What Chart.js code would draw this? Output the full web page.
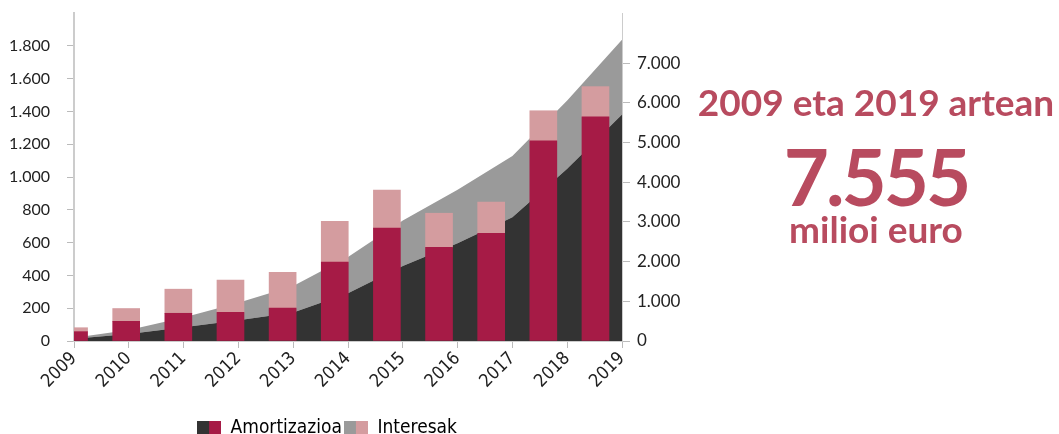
<!DOCTYPE html>
<html>
<head>
<meta charset="utf-8">
<script src="https://cdn.jsdelivr.net/npm/chart.js@4/dist/chart.umd.min.js"></script>
<style>
  body { margin: 0; background: #fff; }
  #wrap { position: relative; width: 1059px; height: 434px; }
  .big { position: absolute; color: #b84b5f; font-family: Lato, sans-serif; font-weight: bold; text-align: center; white-space: nowrap; }
</style>
</head>
<body>
<div id="wrap">
  <canvas id="myChart" width="1059" height="434"></canvas>
  <div class="big" style="left:690px; width:372px; top:79px; font-size:37px;">2009 eta 2019 artean</div>
  <div class="big" style="left:690px; width:372px; top:129px; font-size:78px; letter-spacing:-3px;">7.555</div>
  <div class="big" style="left:690px; width:372px; top:206px; font-size:37px;">milioi euro</div>
</div>
<script>
const years = ['2009', '2010', '2011', '2012', '2013', '2014', '2015', '2016', '2017', '2018', '2019'];

// urteko ordainketak (milioi euro) - ezkerreko ardatza
const amortizazioa = [57, 120, 169, 175, 200, 481, 688, 571, 657, 1220, 1367];
const interesak = [24, 78, 147, 196, 218, 249, 232, 208, 190, 184, 184];

// metatuak - eskuineko ardatza
const amortMetatua = [57, 177, 346, 521, 721, 1202, 1890, 2461, 3118, 4338, 5705];
const guztiraMetatua = [81, 279, 595, 966, 1384, 2114, 3034, 3813, 4660, 6064, 7590];

const leftTicks = [0, 200, 400, 600, 800, 1000, 1200, 1400, 1600, 1800];
const rightTicks = [0, 1000, 2000, 3000, 4000, 5000, 6000, 7000];

const cDark = '#333333';
const cGray = '#9a9a9a';
const cRed = '#a61b46';
const cPink = '#d49c9f';

const narrow = '"DejaVu Sans Condensed", Roboto, sans-serif';

function swatch(a, b) {
    const c = document.createElement('canvas');
    c.width = 24;
    c.height = 15;
    const ctx = c.getContext('2d');
    ctx.fillStyle = a;
    ctx.fillRect(0, 0, 12, 15);
    ctx.fillStyle = b;
    ctx.fillRect(12, 0, 12, 15);
    return c;
}

// ardatzen neurriak finko
function fixBox(w, h) {
    return s => {
        if (w) s.width = w;
        if (h) s.height = h;
        s.paddingLeft = 0;
        s.paddingRight = 0;
        s.paddingTop = 0;
        s.paddingBottom = 0;
    };
}

// legenda pixka bat ezkerrera
const legendShift = {
    id: 'legendShift',
    afterLayout(chart) {
        chart.legend.left -= 15;
        chart.legend.right -= 15;
    }
};

const data = {
    labels: years,
    datasets: [
        {
            type: 'bar',
            label: 'Amortizazioa',
            data: amortizazioa.map((v, i) => ({x: i, y: v})),
            backgroundColor: cRed,
            xAxisID: 'xb',
            yAxisID: 'yL',
            barThickness: 27,
            order: 0,
        },
        {
            type: 'bar',
            label: 'Interesak',
            data: interesak.map((v, i) => ({x: i, y: v})),
            backgroundColor: cPink,
            xAxisID: 'xb',
            yAxisID: 'yL',
            barThickness: 27,
            order: 0,
        },
        {
            type: 'line',
            label: 'Amortizazioa metatua',
            data: amortMetatua,
            backgroundColor: cDark,
            borderWidth: 0,
            pointRadius: 0,
            fill: 'origin',
            xAxisID: 'x',
            yAxisID: 'yR',
            order: 1,
        },
        {
            type: 'line',
            label: 'Guztira metatua',
            data: guztiraMetatua,
            backgroundColor: cGray,
            borderWidth: 0,
            pointRadius: 0,
            fill: '-1',
            xAxisID: 'x',
            yAxisID: 'yR',
            order: 2,
        },
    ]
};

const config = {
    data: data,
    plugins: [legendShift],
    options: {
        responsive: false,
        animation: false,
        locale: 'de-DE',
        layout: {padding: {left: 0, right: 375, top: 13, bottom: -14}},
        scales: {
            x: {
                type: 'category',
                offset: false,
                afterFit: fixBox(0, 76),
                grid: {drawOnChartArea: false, tickLength: 7, color: '#bbb'},
                border: {color: '#ccc', width: 2},
                ticks: {minRotation: 45, maxRotation: 45, color: '#222', font: {family: narrow, size: 18}, padding: 0},
            },
            xb: {
                type: 'linear',
                display: false,
                offset: false,
                min: -0.26,
                max: 10.25,
                stacked: true,
            },
            yL: {
                position: 'left',
                stacked: true,
                min: 0,
                max: 2000,
                afterBuildTicks: s => { s.ticks = leftTicks.map(v => ({value: v})); },
                afterFit: fixBox(74, 0),
                ticks: {color: '#222', font: {family: 'Lato', size: 16}, padding: 17},
                grid: {drawOnChartArea: false, tickLength: 7, color: '#bbb'},
                border: {color: '#ccc', width: 2},
            },
            yR: {
                position: 'right',
                min: 0,
                max: 8266,
                afterBuildTicks: s => { s.ticks = rightTicks.map(v => ({value: v})); },
                afterFit: fixBox(62, 0),
                ticks: {color: '#222', font: {family: 'Lato', size: 17}, padding: 7},
                grid: {drawOnChartArea: false, tickLength: 8, color: '#bbb'},
                border: {color: '#ccc', width: 1},
            },
        },
        plugins: {
            tooltip: {enabled: false},
            legend: {
                position: 'bottom',
                labels: {
                    usePointStyle: true,
                    pointStyleWidth: 24,
                    color: '#222',
                    font: {family: narrow, size: 19},
                    padding: 2,
                    generateLabels: () => [
                        {text: 'Amortizazioa', pointStyle: swatch(cDark, cRed), fillStyle: cRed, lineWidth: 0, strokeStyle: 'transparent', hidden: false, datasetIndex: 0},
                        {text: 'Interesak', pointStyle: swatch(cGray, cPink), fillStyle: cPink, lineWidth: 0, strokeStyle: 'transparent', hidden: false, datasetIndex: 1},
                    ],
                },
            },
        },
    },
};

const myChart = new Chart(
    document.getElementById('myChart'),
    config
);
</script>
</body>
</html>
